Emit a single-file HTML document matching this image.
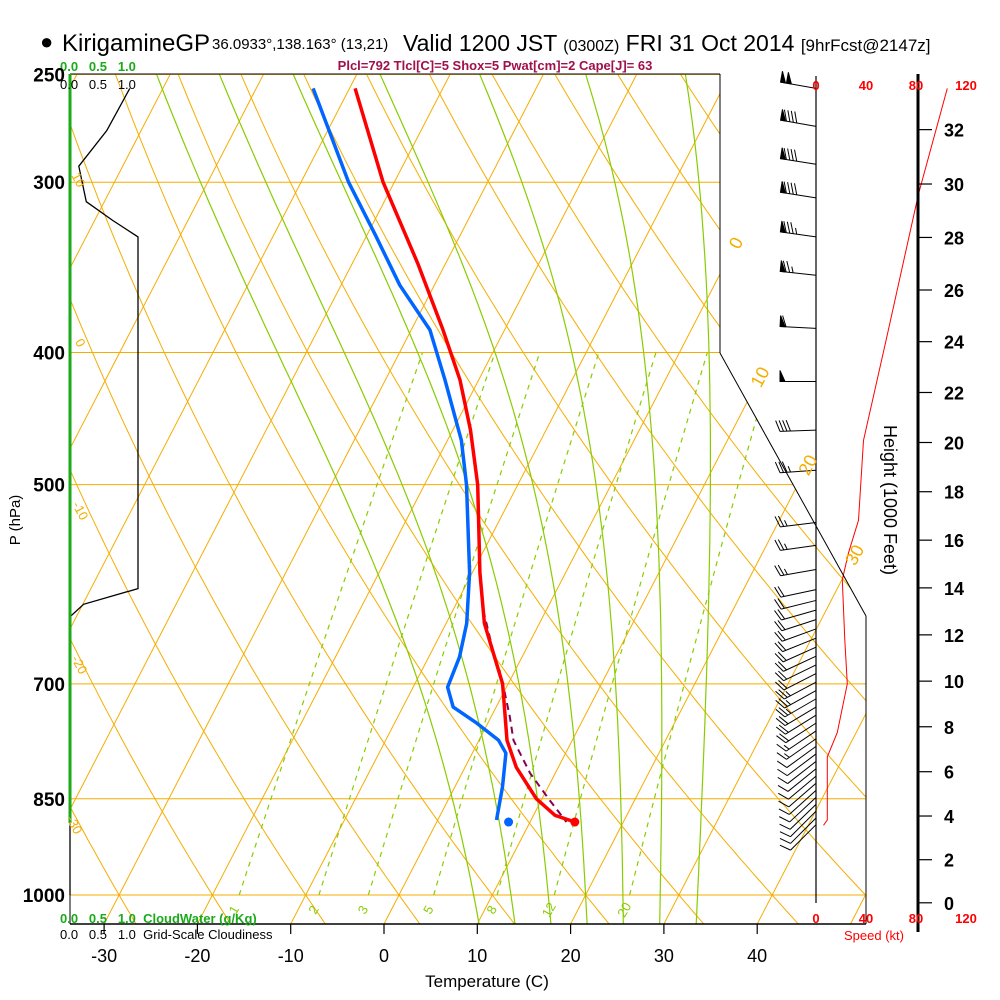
<!DOCTYPE html>
<html><head><meta charset="utf-8">
<style>
html,body{margin:0;padding:0;background:#fff;}
svg{display:block;font-family:"Liberation Sans",sans-serif;}
</style></head>
<body>
<svg id="chart" width="1000" height="1000" viewBox="0 0 1000 1000" xmlns="http://www.w3.org/2000/svg">
<defs>
<clipPath id="plotclip"><polygon points="70,74 720,74 720,353 866,616 866,924 70,924"/></clipPath>
<clipPath id="mrclip"><polygon points="70,353 866,353 866,895 70,895"/></clipPath>
</defs>
<g id="grid" clip-path="url(#plotclip)"></g>
<g id="profiles"></g>
<g id="frame"></g>
<g id="labels">
  <text x="40" y="49" font-size="22">●</text>
  <text x="62" y="51" font-size="24">KirigamineGP</text>
  <text x="212" y="49" font-size="15">36.0933°,138.163° (13,21)</text>
  <text x="403" y="51" font-size="23">Valid 1200 JST <tspan font-size="16">(0300Z)</tspan> FRI 31 Oct 2014 <tspan font-size="17">[9hrFcst@2147z]</tspan></text>
  <text x="495" y="70" font-size="13" font-weight="bold" fill="#a0104a" text-anchor="middle">Plcl=792 Tlcl[C]=5 Shox=5 Pwat[cm]=2 Cape[J]= 63</text>
  <text x="60" y="71" font-size="13" font-weight="bold" fill="#1aaa1a">0.0 &#160;&#160;0.5 &#160;&#160;1.0</text>
  <text x="60" y="89" font-size="13" fill="#000">0.0 &#160;&#160;0.5 &#160;&#160;1.0</text>
  <text x="60" y="923" font-size="13" font-weight="bold" fill="#1aaa1a">0.0 &#160;&#160;0.5 &#160;&#160;1.0 &#160;CloudWater (g/Kg)</text>
  <text x="60" y="939" font-size="13" fill="#000">0.0 &#160;&#160;0.5 &#160;&#160;1.0 &#160;Grid-Scale Cloudiness</text>
  <text x="487" y="987" font-size="17" text-anchor="middle">Temperature (C)</text>
  <text transform="translate(20,520) rotate(-90)" font-size="15" text-anchor="middle">P (hPa)</text>
  <text transform="translate(884,500) rotate(90)" font-size="18" text-anchor="middle">Height (1000 Feet)</text>
  <text x="874" y="940" font-size="13" fill="#f00" text-anchor="middle">Speed (kt)</text>
</g>
</svg>
<script>
// ---- data ----
const pressureTicks = [250, 300, 400, 500, 700, 850, 1000];
const tempTicks = [-30, -20, -10, 0, 10, 20, 30, 40];
const heightTicks = [0, 2, 4, 6, 8, 10, 12, 14, 16, 18, 20, 22, 24, 26, 28, 30, 32];
const speedTicks = [0, 40, 80, 120];
const mixRatios = [1, 2, 3, 5, 8, 12, 20];
const moistThetaW = [8, 12, 16, 20, 24, 28, 32];
const tempP = [256, 300, 344, 385, 419, 456, 500, 580, 632, 700, 770, 806, 850, 874, 884];
const tempT = [-49.4, -41.2, -33.0, -26.6, -22.0, -18.1, -14.3, -9.2, -5.9, -0.6, 3.0, 5.5, 9.4, 12.3, 14.8];
const dewP = [256, 300, 328, 357, 385, 419, 464, 500, 580, 632, 669, 704, 728, 748, 770, 787, 833, 881];
const dewT = [-53.9, -44.9, -39.1, -33.7, -28.0, -23.6, -18.5, -15.5, -10.3, -7.8, -6.7, -6.3, -4.6, -1.2, 2.1, 3.6, 5.1, 6.3];
const sfcP = 884;
const sfcT = 14.8;
const sfcTd = 7.7;
const parcelP = [618, 660, 704, 740, 770, 814, 850, 884];
const parcelT = [-6.75, -3.6, -0.3, 2.0, 3.7, 7.3, 10.7, 13.9];
const cloudP = [256, 275, 292, 310, 320, 329, 596, 612, 625, 1000];
const cloudF = [0.88, 0.54, 0.13, 0.24, 0.63, 1.0, 1.0, 0.2, 0.0, 0.0];
const spdP = [256, 306, 392, 464, 531, 561, 587, 650, 700, 760, 792, 881, 889];
const spdV = [105, 82, 56, 38, 34, 26, 21, 23, 25, 17, 9, 9, 6];
const barbP = [256, 273, 291, 308, 329, 351, 384, 420, 456, 488, 533, 554, 577, 597,
  608, 618, 628, 638, 648, 658, 668, 678, 688, 698, 708, 718, 728, 738, 748, 758, 768, 778, 788, 798, 808, 818, 828, 838, 848, 858, 868, 878, 888];
const barbDir = [280, 280, 279, 279, 278, 276, 273, 270, 268, 266, 263, 262, 260, 258,
  256, 254, 252, 250, 248, 246, 245, 244, 243, 242, 241, 240, 239, 238, 237, 236, 235, 234, 233, 232, 231, 230, 229, 228, 227, 226, 225, 225, 225];
const barbSpd = [100, 90, 90, 90, 85, 75, 60, 50, 40, 35, 25, 25, 25, 22,
  22, 22, 22, 22, 22, 22, 22, 22, 22, 25, 25, 25, 22, 20, 18, 15, 15, 12, 10, 10, 10, 10, 10, 10, 10, 10, 10, 10, 10];

// ---- scales ----
const NS = 'http://www.w3.org/2000/svg';
function yP(p){ return 895 - 592*Math.log(1000/p); }
function xT(T, y){ return 384 + 9.33*T + 0.517*(924 - y); }
function pY(y){ return 1000*Math.exp(-(895 - y)/592); }
function mk(tag, parent, attrs){
  const e = document.createElementNS(NS, tag);
  for (const k in attrs) e.setAttribute(k, attrs[k]);
  parent.appendChild(e);
  return e;
}
function pts(arr){ return arr.map(a => a[0].toFixed(1)+','+a[1].toFixed(1)).join(' '); }
const grid = document.getElementById('grid');
const prof = document.getElementById('profiles');
const frame = document.getElementById('frame');
const labels = document.getElementById('labels');
const ORANGE = '#f5ad00', GREEN = '#88cc00';

// pressure lines
for (const p of pressureTicks.concat([1043])) {
  if (p === 1043) continue;
  const y = yP(p);
  const l = mk('line', grid, {x1:70, x2:866, y1:y, y2:y, stroke:ORANGE, 'stroke-width':1});
  
  
}
// isotherms
for (let T = -130; T <= 50; T += 10) {
  const l = mk('line', grid, {x1:xT(T,924), y1:924, x2:xT(T,74), y2:74, stroke:ORANGE, 'stroke-width':1});
  
  
}
// dry adiabats
for (let T0 = -60; T0 <= 170; T0 += 10) {
  const th = T0 + 273.15, a = [];
  for (let p = 1050; p >= 245; p -= 10) {
    const T = th*Math.pow(p/1000, 0.2857) - 273.15;
    const y = yP(p); a.push([xT(T,y), y]);
  }
  const l = mk('polyline', grid, {points:pts(a), fill:'none', stroke:ORANGE, 'stroke-width':1});
  
  
}
// moist adiabats
function es(Tc){ return 6.112*Math.exp(17.67*Tc/(Tc+243.5)); }
function dTdp(TK, p){
  const Rd=287.04, Cp=1005.7, Lv=2.501e6, eps=0.622;
  const e = es(TK-273.15), rs = eps*e/(p-e);
  return (Rd*TK + Lv*rs)/(p*(Cp + Lv*Lv*rs*eps/(Rd*TK*TK)));
}
for (const tw of moistThetaW) {
  const up = [], dn = [];
  let T = tw + 273.15;
  for (let p = 1000; p >= 245; p -= 2) {
    if (p % 10 === 0) { const y=yP(p); up.push([xT(T-273.15,y), y]); }
    T -= dTdp(T,p)*2;
  }
  T = tw + 273.15;
  for (let p = 1000; p <= 1050; p += 2) {
    if (p % 10 === 0) { const y=yP(p); dn.unshift([xT(T-273.15,y), y]); }
    T += dTdp(T,p)*2;
  }
  const l = mk('polyline', grid, {points:pts(dn.concat(up)), fill:'none', stroke:GREEN, 'stroke-width':1.2});
  
  
}
// mixing ratio lines
const mrg = mk('g', grid, {'clip-path':'url(#mrclip)'});
for (const w of mixRatios) {
  const a = [];
  for (let p = 1000; p >= 400; p -= 20) {
    const e = (w/1000)*p/(0.622 + w/1000), L = Math.log(e/6.112);
    const Td = 243.5*L/(17.67 - L);
    const y = yP(p); a.push([xT(Td,y), y]);
  }
  const l = mk('polyline', mrg, {points:pts(a), fill:'none', stroke:GREEN, 'stroke-width':1.2, 'stroke-dasharray':'5,5'});
  
  
  const e1 = (w/1000)*1000/(0.622 + w/1000), L1 = Math.log(e1/6.112);
  const x1 = xT(243.5*L1/(17.67-L1), 895) - 5;
  const t = mk('text', labels, {x:x1, y:914, 'font-size':13, fill:GREEN, 'text-anchor':'middle', transform:`rotate(-60 ${x1} 910)`});
  t.textContent = w;
  
  
}
// isotherm / adiabat labels
const isoLab = [[0,243],[10,377],[20,465],[30,555]];
for (const [T,y] of isoLab) {
  const x = xT(T,y);
  const t = mk('text', labels, {x:x, y:y+6, 'font-size':18, fill:ORANGE, 'text-anchor':'middle', transform:`rotate(-62 ${x} ${y})`});
  t.textContent = T;
  
  
}
const adLab = [['10',78,180],['0',80,343],['-10',80,511],['-20',79,665],['-30',74,825]];
for (const [s,x,y] of adLab) {
  const t = mk('text', labels, {x:x, y:y+4, 'font-size':13, fill:ORANGE, 'text-anchor':'middle', transform:`rotate(62 ${x} ${y})`});
  t.textContent = s;
  
  
}

// frame
function fl(x1,y1,x2,y2,w,c,name){
  const l = mk('line', frame, {x1:x1,y1:y1,x2:x2,y2:y2,stroke:c||'#000','stroke-width':w||1});
  
  
}
fl(70,74,720,74,1,'#000','plot-top-border');
fl(720,74,720,353,1,'#000','plot-right-border');
fl(720,353,866,616,1,'#000','plot-diagonal-border');
fl(866,616,866,924,1,'#000','plot-right-lower-border');
fl(70,924,866,924,1.5,'#000','x-axis-line');
fl(70,74,70,924,1,'#000','y-axis-line');
fl(70,74,70,823,3,'#1aaa1a','cloudwater-zero-line');
fl(816,76,816,903,1.2,'#000','wind-axis-line');
fl(918,74,918,932,3,'#000','height-axis-line');

for (const T of tempTicks) {
  const x = xT(T,924);
  fl(x,924,x,934,1.2,'#000','x-tick');
  const t = mk('text', labels, {x:x, y:962, 'font-size':18, 'text-anchor':'middle'});
  t.textContent = T;
  
  
}
for (const p of pressureTicks) {
  const t = mk('text', labels, {x:65, y:yP(p)+7, 'font-size':19, 'font-weight':'bold', 'text-anchor':'end'});
  t.textContent = p;
  
  
}
for (const h of heightTicks) {
  const z = h*1000;
  const p = 1013.25*Math.pow(1 - 6.8756e-6*z, 5.2559);
  const y = yP(p);
  fl(918,y,932,y,1.2,'#000','height-tick');
  const t = mk('text', labels, {x:944, y:y+7, 'font-size':18, 'font-weight':'bold'});
  t.textContent = h;
  
  
}
function xS(s){ return 816 + s*1.25; }
for (const s of speedTicks) {
  for (const yy of [90, 923]) {
    const t = mk('text', labels, {x:xS(s), y:yy, 'font-size':13, 'font-weight':'bold', fill:'#f00', 'text-anchor':'middle'});
    t.textContent = s;
    
    
  }
}

// profiles
function line(P, V, fn, attrs, name){
  const a = P.map((p,i) => { const y=yP(p); return [fn(V[i],y), y]; });
  const l = mk('polyline', prof, Object.assign({points:pts(a), fill:'none'}, attrs));
  
  
}
line(cloudP, cloudF, (f)=>70 + f*68, {stroke:'#000','stroke-width':1.3}, 'cloudiness-line');
line(spdP, spdV, (s)=>xS(s), {stroke:'#f00','stroke-width':1}, 'wind-speed-line');
line(parcelP, parcelT, xT, {stroke:'#880055','stroke-width':2,'stroke-dasharray':'7,5'}, 'parcel-line');
line(dewP, dewT, xT, {stroke:'#0066ff','stroke-width':3.5,'stroke-linejoin':'round'}, 'dewpoint-line');
line(tempP, tempT, xT, {stroke:'#ff0000','stroke-width':3.5,'stroke-linejoin':'round'}, 'temperature-line');
{
  const y = yP(sfcP);
  const c1 = mk('circle', prof, {cx:xT(sfcT,y), cy:y, r:4.5, fill:'#ff0000'});
  
  
  const c2 = mk('circle', prof, {cx:xT(sfcTd,y), cy:y, r:4.5, fill:'#0066ff'});
  
  
}
// wind barbs
for (let i = 0; i < barbP.length; i++) {
  const y0 = yP(barbP[i]), x0 = 816;
  const d = barbDir[i]*Math.PI/180;
  const sx = Math.sin(d), sy = -Math.cos(d);
  const px = -sy, py = sx;
  const L = 36;
  const g = mk('g', prof, {stroke:'#000', 'stroke-width':1, fill:'#000'});
  
  
  mk('line', g, {x1:x0, y1:y0, x2:x0+sx*L, y2:y0+sy*L});
  let s = Math.round(barbSpd[i]/5)*5, pos = L;
  while (s >= 50) {
    const ax = x0+sx*pos, ay = y0+sy*pos, bx = x0+sx*(pos-5), by = y0+sy*(pos-5);
    mk('polygon', g, {points:`${ax},${ay} ${bx},${by} ${ax+px*11},${ay+py*11}`});
    pos -= 6; s -= 50;
  }
  while (s >= 10) {
    const ax = x0+sx*pos, ay = y0+sy*pos;
    mk('line', g, {x1:ax, y1:ay, x2:ax+px*11+sx*4, y2:ay+py*11+sy*4});
    pos -= 3.5; s -= 10;
  }
  if (s >= 5) {
    const ax = x0+sx*pos, ay = y0+sy*pos;
    mk('line', g, {x1:ax, y1:ay, x2:ax+px*6+sx*2, y2:ay+py*6+sy*2});
  }
}
</script>
</body></html>
